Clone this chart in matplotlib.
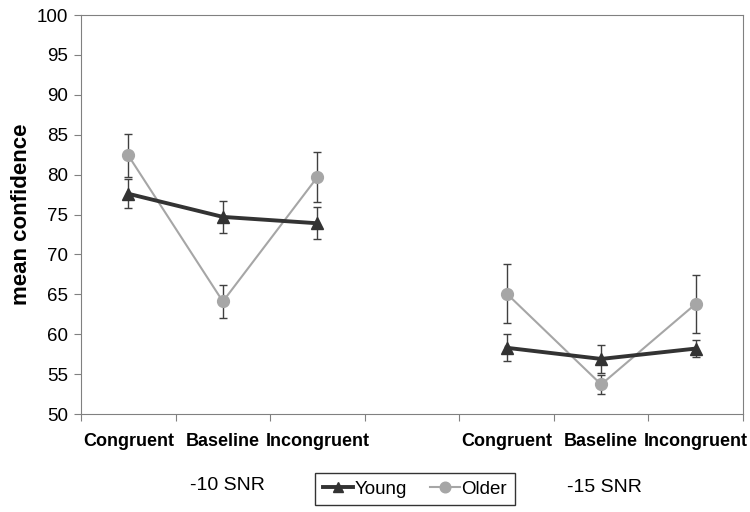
import numpy as np
import matplotlib
matplotlib.use("Agg")
from matplotlib import pyplot as plt

plt.rcParams['font.family'] = ['Liberation Sans', 'DejaVu Sans']

# dữ liệu
dieu_kien = ['Congruent', 'Baseline', 'Incongruent']
nhom = ['-10 SNR', '-15 SNR']

young = [[77.6, 74.7, 73.9], [58.3, 56.9, 58.2]]
young_err = [[1.8, 2.0, 2.0], [1.7, 1.8, 1.1]]
older = [[82.4, 64.1, 79.7], [65.1, 53.7, 63.8]]
older_err = [[2.7, 2.1, 3.1], [3.7, 1.2, 3.6]]

fig = plt.figure(figsize=(7.5, 5.12), dpi=100)
ax = fig.add_axes([0.108, 0.1914, 0.8827, 0.7793])

vi_tri = [[0, 1, 2], [4, 5, 6]]
for g in range(2):
    ax.errorbar(vi_tri[g], older[g], yerr=older_err[g], color='#a6a6a6', lw=1.5,
                marker='o', ms=8.5, ecolor='#404040', elinewidth=1, capsize=3,
                label='Older' if g == 0 else None, zorder=2)
    ax.errorbar(vi_tri[g], young[g], yerr=young_err[g], color='#333333', lw=2.8,
                marker='^', ms=8.5, ecolor='#404040', elinewidth=1, capsize=3,
                label='Young' if g == 0 else None, zorder=3)

ax.set_xlim(-0.5, 6.5)
ax.set_ylim(50, 100)
ax.set_yticks(np.arange(50, 101, 5))
ax.set_xticks(np.arange(-0.5, 7, 1))
ax.set_xticklabels([])
ax.tick_params(axis='y', labelsize=13.5, length=5, color='#808080', pad=4)
ax.tick_params(axis='x', length=5, color='#808080')
for s in ax.spines.values():
    s.set_color('#808080')
ax.set_ylabel('mean confidence', fontsize=16, fontweight='bold', labelpad=4)

# nhãn điều kiện
for g in range(2):
    for k in range(3):
        ax.text(vi_tri[g][k], 46.6, dieu_kien[k], ha='center', va='center',
                fontsize=13, fontweight='bold')
fig.text(227 / 750, 1 - 486 / 512, nhom[0], ha='center', va='center', fontsize=14)
fig.text(604 / 750, 1 - 487 / 512, nhom[1], ha='center', va='center', fontsize=14)

h, l = ax.get_legend_handles_labels()
thu_tu = [l.index('Young'), l.index('Older')]
h_new = []
for i in thu_tu:
    h_new.append(h[i][0])
leg = fig.legend(h_new, ['Young', 'Older'], loc='center', ncol=2,
                 bbox_to_anchor=(415 / 750, 1 - 489 / 512), fontsize=13.5,
                 frameon=True, fancybox=False, edgecolor='black',
                 handlelength=1.6, handletextpad=0.1, columnspacing=1.2,
                 borderpad=0.4, markerscale=0.9)
leg.get_frame().set_linewidth(1.0)

fig.savefig('out.png', dpi=100)
